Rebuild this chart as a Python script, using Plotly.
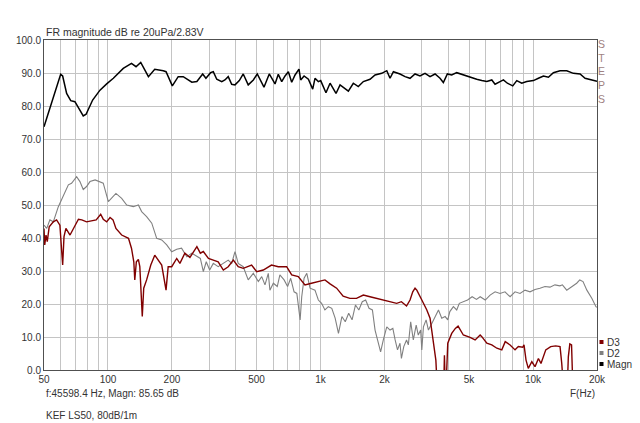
import numpy as np
import plotly.graph_objects as go

# ---------------- data ----------------
magn_f = [50, 55.3, 59.9, 61.2, 63.9, 66.8, 69.9, 76.5, 78.9, 84.7, 91.7, 98.6, 106, 118, 129, 135.5, 142.6,
          155, 166, 182, 187.6, 200.8, 214, 226, 248, 262, 279, 289, 304, 313, 325, 343, 355, 368, 382, 396,
          415, 433, 457, 483, 504, 542, 574, 596, 611, 633, 657, 681, 706, 732, 759, 792, 807, 837, 877, 919,
          942, 977, 1002, 1061, 1109, 1183, 1236, 1352, 1427, 1506, 1591, 1710, 1806, 1941, 2050, 2124, 2203,
          2366, 2500, 2638, 2785, 2938, 3103, 3277, 3460, 3651, 3785, 3953, 4144, 4375, 4699, 5055, 5434,
          5741, 6062, 6397, 6628, 6995, 7256, 7573, 8029, 8385, 8850, 9342, 10039, 10600, 11193, 11816,
          12470, 13405, 14412, 15490, 16650, 17580, 18550, 19590, 20000]
magn_db = [73.7, 82.8, 89.6, 89.1, 83.8, 81.6, 81.3, 77.0, 77.5, 81.8, 84.8, 86.7, 88.4, 91.4, 92.9, 91.9, 93.2,
           88.9, 91.1, 90.7, 90.4, 86.1, 88.9, 88.9, 87.2, 87.4, 89.7, 88.4, 90.1, 90.4, 88.1, 87.4, 87.9, 88.9,
           86.6, 86.4, 87.7, 89.7, 86.4, 87.9, 89.7, 85.7, 89.7, 87.9, 86.7, 89.6, 87.4, 89.1, 90.4, 87.2, 89.4,
           91.2, 87.9, 89.1, 88.1, 85.1, 88.4, 87.4, 87.7, 84.0, 86.9, 83.8, 86.4, 84.5, 86.9, 85.9, 87.4, 88.1,
           89.4, 89.9, 90.7, 88.4, 90.4, 89.7, 88.9, 88.4, 89.7, 89.1, 89.9, 88.9, 89.7, 88.4, 87.1, 89.7, 89.4,
           90.1, 89.4, 88.9, 88.1, 87.7, 87.4, 87.9, 86.6, 87.4, 87.9, 86.9, 86.1, 87.7, 86.9, 87.4, 87.7, 88.4,
           89.1, 88.7, 90.1, 90.7, 90.7, 89.9, 89.7, 88.4, 88.1, 87.7, 87.5]

d2_f = [50, 51.5, 53.3, 55.3, 58.4, 61.6, 65.1, 67.4, 71.2, 73.8, 76.5, 79.3, 82.3, 87, 91.7, 95, 100.4, 104.2,
        109, 116, 122.5, 131.6, 139, 144, 152, 160.7, 169.5, 179, 189, 199.5, 210.6, 222, 235, 248, 262,
        272, 281, 290, 301, 313, 330, 349, 368, 382, 396, 410, 433, 457, 483, 510, 529, 548, 568, 578, 600,
        626, 644, 674, 700, 724, 751, 774, 802, 816, 837, 862, 893, 942, 977, 1012, 1049, 1089, 1130, 1172,
        1215, 1261, 1308, 1357, 1408, 1461, 1515, 1572, 1631, 1692, 1755, 1806, 1888, 1918, 1975, 2050, 2124,
        2190, 2245, 2303, 2366, 2403, 2465, 2540, 2590, 2657, 2733, 2820, 2885, 2960, 2997, 3050, 3140, 3220,
        3340, 3460, 3590, 3720, 3860, 3970, 4060, 4220, 4375, 4500, 4700, 4920, 5170, 5420, 5640, 5960, 6280,
        6630, 6995, 7380, 7800, 8230, 8690, 9170, 9680, 10220, 10780, 11380, 12010, 12680, 13380, 13750,
        14410, 15200, 16050, 16590, 17190, 17920, 18930, 19770, 20000]
d2_db = [43.9, 42.9, 45.5, 44.9, 49.5, 53.0, 56.1, 56.6, 58.6, 57.1, 54.7, 55.6, 57.1, 57.6, 57.1, 56.6, 51.0,
         52.0, 53.5, 52.0, 50.0, 49.5, 50.0, 48.0, 46.5, 44.5, 39.9, 39.4, 37.9, 35.8, 36.6, 36.9, 34.3, 35.4,
         34.3, 33.8, 29.8, 32.8, 30.3, 32.3, 31.3, 32.3, 33.3, 32.3, 35.9, 32.3, 31.3, 27.3, 29.3, 26.8, 28.3,
         25.8, 29.3, 24.2, 26.3, 25.3, 28.8, 27.3, 25.3, 27.8, 23.7, 23.2, 15.2, 22.2, 27.8, 29.3, 24.8, 24.2,
         21.2, 20.2, 18.2, 19.2, 18.7, 15.7, 11.1, 16.2, 14.6, 17.2, 15.2, 19.7, 18.2, 20.7, 21.2, 18.7, 18.2,
         12.1, 7.1, 5.5, 9.1, 13.1, 12.1, 12.6, 9.1, 6.1, 8.1, 3.5, 7.1, 9.1, 7.6, 14.6, 9.1, 13.6, 10.6, 12.1,
         6.1, 13.1, 15.2, 12.1, 14.1, 16.2, 18.2, 15.7, 16.2, 15.2, 17.7, 19.2, 18.2, 20.2, 20.7, 21.2, 22.2,
         21.4, 22.2, 21.2, 22.7, 23.7, 23.2, 23.7, 22.2, 23.7, 23.2, 24.2, 23.7, 24.4, 24.8, 25.3, 25.1, 25.8,
         25.5, 25.8, 24.2, 25.3, 26.3, 27.3, 26.8, 24.2, 21.7, 19.2, 19.0]

d3_f = [50, 50.4, 51.1, 51.8, 52.9, 55.3, 57.3, 59.4, 60.5, 61.2, 62.1, 63.4, 66.3, 69.9, 72.6, 75.3, 79.3, 83.5,
        88, 92.4, 95, 98.6, 102.3, 105.6, 109, 116, 124.9, 129, 132.3, 133.7, 136, 139, 141.2, 145, 147.3, 152,
        159, 166, 172, 179, 184, 187.6, 192, 199.5, 210.6, 218, 230, 243, 262, 272, 281, 297, 313, 330, 349,
        368, 389, 410, 433, 474, 501, 538, 588, 633, 693, 732, 786, 845, 907, 977, 1049, 1109, 1191, 1278,
        1375, 1477, 1591, 1710, 1840, 1975, 2124, 2283, 2403, 2540, 2638, 2717, 2785, 2839, 2997, 3164, 3277,
        3395, 3490, 3540, 3800, 3830, 3860, 3910, 3970, 4144, 4310, 4440, 4570, 4700, 5055, 5340, 5640, 5741,
        6062, 6397, 6760, 7130, 7400, 7800, 8230, 8530, 8940, 9070, 9270, 9500, 9870, 10220, 10600, 10900,
        11480, 12110, 12780, 13400, 13650, 13900, 14500, 14660, 14900, 15180, 15390, 15500]
d3_db = [42.9, 37.9, 40.9, 38.9, 43.4, 44.9, 45.5, 43.9, 36.4, 31.8, 40.4, 42.9, 40.9, 43.9, 45.7, 45.5, 44.9,
         45.2, 45.5, 47.2, 45.7, 44.9, 46.2, 45.5, 42.9, 40.9, 39.9, 36.9, 32.8, 27.3, 32.8, 33.5, 31.3, 16.2,
         24.8, 27.3, 31.8, 34.8, 33.3, 31.8, 27.3, 24.2, 31.3, 31.3, 33.8, 32.3, 35.4, 34.1, 37.4, 35.4, 35.9,
         33.8, 33.3, 32.8, 30.3, 31.3, 33.3, 31.3, 30.8, 31.8, 29.8, 30.3, 31.8, 31.3, 31.3, 28.8, 28.3, 25.8,
         26.3, 26.8, 27.3, 26.1, 24.8, 22.4, 21.7, 21.7, 22.7, 22.2, 21.7, 21.0, 20.7, 20.2, 20.7, 19.4, 21.2,
         23.7, 24.8, 24.2, 21.2, 18.2, 15.7, 9.1, 3.0, -5, -5, 4.5, -5, -3, 8.1, 11.1, 12.6, 13.3, 12.1, 10.6,
         9.9, 9.1, 10.6, 10.1, 8.1, 7.6, 6.6, 6.1, 8.6, 7.6, 6.1, 7.1, 6.9, 7.6, 3.0, 0.5, 2.5, 1.0, 3.5, 2.0,
         6.1, 7.1, 7.3, 7.1, 2.0, -5, -5, 4.0, 7.9, 7.6, -5, -5]

x_tick_vals = [50, 60, 70, 80, 90, 100, 200, 300, 400, 500, 600, 700, 800, 900, 1000, 2000, 3000, 4000,
               5000, 6000, 7000, 8000, 9000, 10000, 20000]
x_tick_text = {50: "50", 100: "100", 200: "200", 500: "500", 1000: "1k", 2000: "2k", 5000: "5k",
               10000: "10k", 20000: "20k"}
y_tick_vals = [0, 10, 20, 30, 40, 50, 60, 70, 80, 90, 100]

legend_names = ["D3", "D2", "Magn"]
legend_colors = ["#800000", "#808080", "#000000"]

FONT = "Liberation Sans, Arial, sans-serif"
TXT = "#333333"

fig = go.Figure()
fig.add_trace(go.Scatter(x=d2_f, y=d2_db, mode="lines", line=dict(color="#808080", width=1.1),
                         showlegend=False, hoverinfo="skip"))
fig.add_trace(go.Scatter(x=d3_f, y=d3_db, mode="lines", line=dict(color="#800000", width=1.4),
                         showlegend=False, hoverinfo="skip"))
fig.add_trace(go.Scatter(x=magn_f, y=magn_db, mode="lines", line=dict(color="#000000", width=1.5),
                         showlegend=False, hoverinfo="skip"))

fig.update_layout(
    width=640, height=423,
    margin=dict(l=44, r=43, t=40, b=53),
    paper_bgcolor="white", plot_bgcolor="white",
    font=dict(family=FONT, size=10, color=TXT),
    showlegend=False,
)
fig.update_xaxes(
    type="log", range=[np.log10(50), np.log10(20000)],
    tickvals=x_tick_vals, ticktext=[x_tick_text.get(v, "") for v in x_tick_vals],
    showgrid=True, gridcolor="#c4c4c4", gridwidth=1.3,
    showline=True, linecolor="#505050", linewidth=1, mirror=True,
    ticks="", tickfont=dict(size=10, color=TXT), zeroline=False,
)
fig.update_yaxes(
    range=[0, 100], tickvals=y_tick_vals, tickformat=".1f",
    showgrid=True, gridcolor="#c4c4c4", gridwidth=1.3,
    showline=True, linecolor="#505050", linewidth=1, mirror=True,
    ticks="", tickfont=dict(size=10, color=TXT), zeroline=False,
)

ann = []
ann.append(dict(text="FR magnitude dB re 20uPa/2.83V", xref="paper", yref="paper", x=0, y=1,
                xanchor="left", yanchor="bottom", showarrow=False, font=dict(size=10.5, color=TXT)))
ann.append(dict(text="F(Hz)", xref="paper", yref="paper", x=1, y=(370 - 393) / 330,
                xanchor="right", yanchor="middle", showarrow=False, font=dict(size=10, color=TXT)))
ann.append(dict(text="f:45598.4 Hz, Magn: 85.65 dB", xref="paper", yref="paper", x=0, y=(370 - 393) / 330,
                xanchor="left", yanchor="middle", showarrow=False, font=dict(size=10, color=TXT)))
ann.append(dict(text="KEF LS50, 80dB/1m", xref="paper", yref="paper", x=0, y=(370 - 415.5) / 330,
                xanchor="left", yanchor="middle", showarrow=False, font=dict(size=10, color=TXT)))
ann.append(dict(text="S<br>T<br>E<br>P<br>S", xref="paper", yref="paper", x=(601.5 - 44) / 553,
                y=(370 - 36) / 330, xanchor="center", yanchor="top", showarrow=False, align="center",
                font=dict(size=10.5, color="#a08282")))
shapes = []
for i, (nm, col) in enumerate(zip(legend_names, legend_colors)):
    yc = 342 + i * 11
    ann.append(dict(text=nm, xref="paper", yref="paper", x=(605 - 44) / 553, y=(370 - yc) / 330,
                    xanchor="left", yanchor="middle", showarrow=False, font=dict(size=10, color=TXT)))
    shapes.append(dict(type="rect", xref="paper", yref="paper",
                       x0=(599.5 - 44) / 553, x1=(603.5 - 44) / 553,
                       y0=(370 - yc - 2) / 330, y1=(370 - yc + 2) / 330,
                       fillcolor=col, line=dict(width=0)))
fig.update_layout(annotations=ann, shapes=shapes)

fig.write_html("out.html")
